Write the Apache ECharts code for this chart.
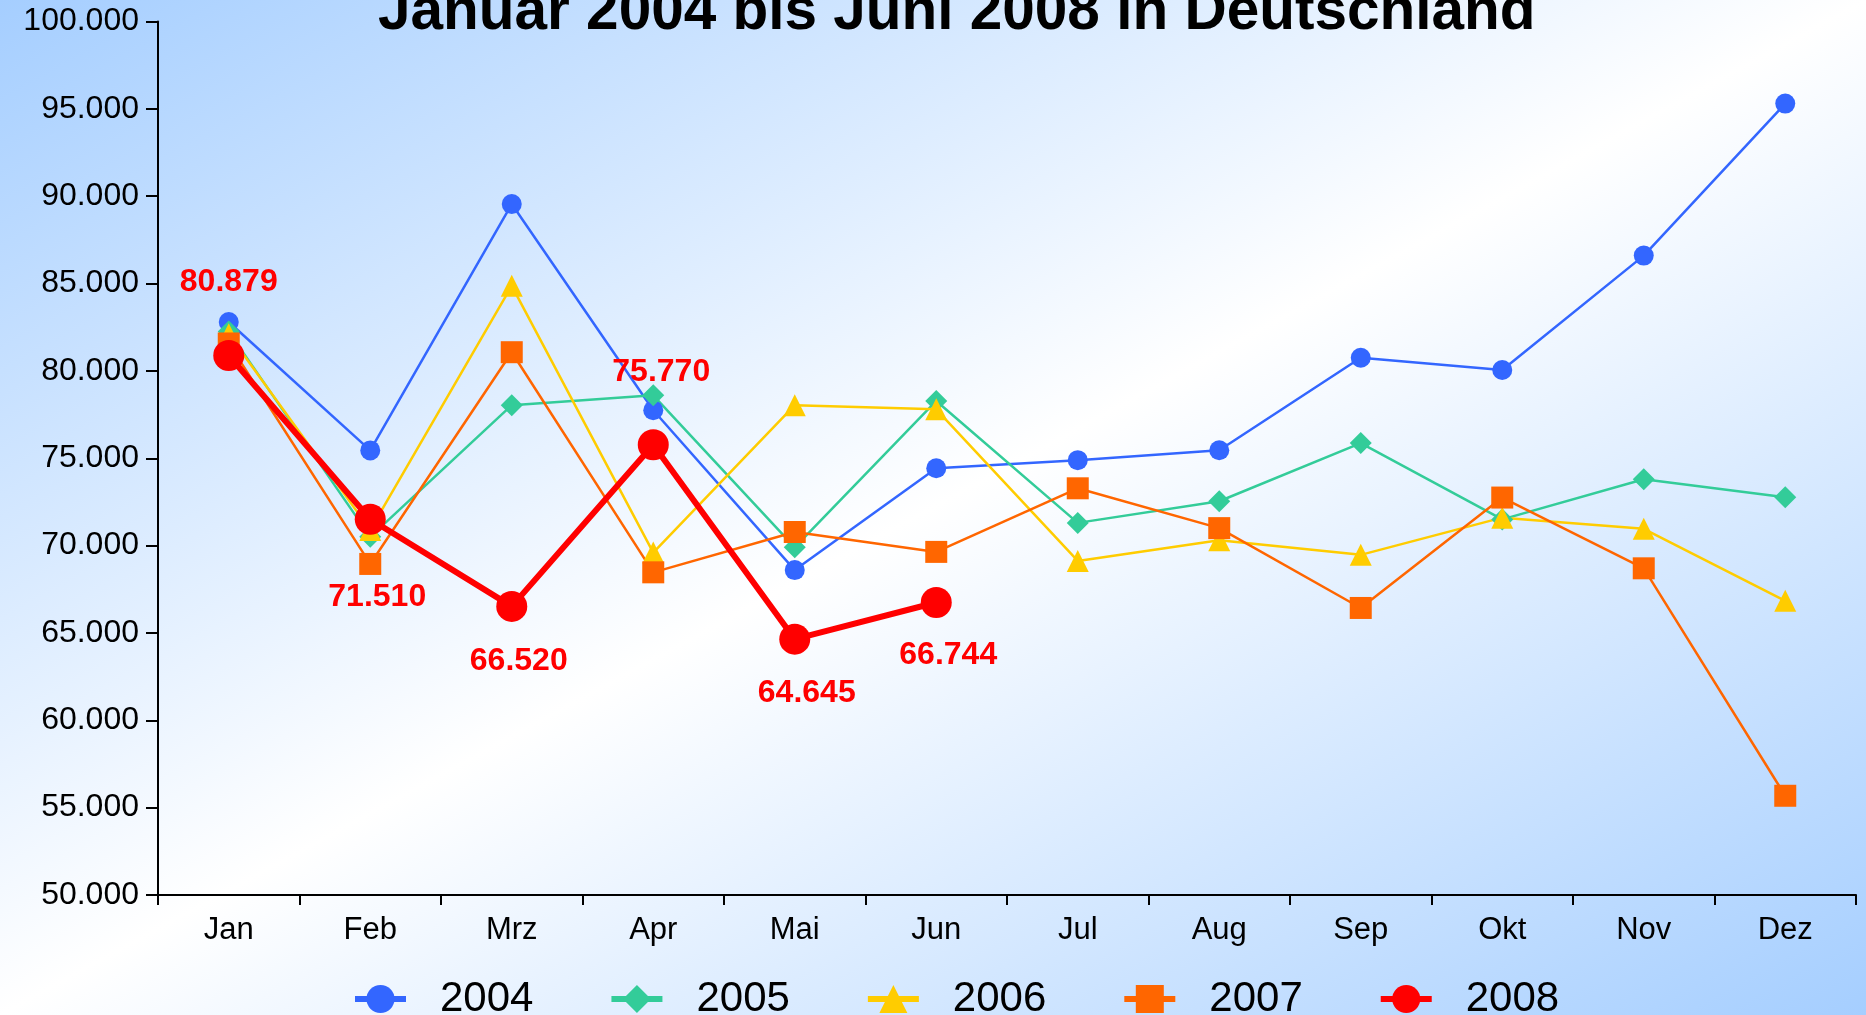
<!DOCTYPE html>
<html>
<head>
<meta charset="utf-8">
<script src="https://cdn.jsdelivr.net/npm/echarts@6/dist/echarts.min.js"></script>
<style>
    html, body { margin: 0; padding: 0; }
    #chart { width: 1866px; height: 1015px; }
</style>
</head>
<body>
<div id="chart"></div>
<script>
// Monate und Werte
const months = ['Jan', 'Feb', 'Mrz', 'Apr', 'Mai', 'Jun', 'Jul', 'Aug', 'Sep', 'Okt', 'Nov', 'Dez'];
const years = ['2004', '2005', '2006', '2007', '2008'];
const y2004 = [82800, 75450, 89550, 77750, 68600, 74430, 74890, 75460, 80750, 80050, 86600, 95300];
const y2005 = [82250, 70500, 78040, 78600, 69900, 78280, 71300, 72540, 75870, 71500, 73800, 72770];
const y2006 = [82100, 70900, 84870, 69600, 78040, 77800, 69120, 70300, 69470, 71600, 70960, 66840];
const y2007 = [81570, 68950, 81070, 68470, 70780, 69640, 73280, 71000, 66430, 72750, 68700, 55680];
const y2008 = [80879, 71510, 66520, 75770, 64645, 66744];
const yMin = 50000, yMax = 100000, yStep = 5000;

// Versatz der roten Beschriftungen [dx, dy] (nur Layout)
const labelShift = [[0, -73], [7, 78], [7, 55], [8, -73], [12, 54], [12, 53]];

const font = 'Liberation Sans';

function fmt(v) {
    const t = Math.floor(v / 1000);
    const r = String(Math.round(v % 1000)).padStart(3, '0');
    return t + '.' + r;
}

const chart = echarts.init(document.getElementById('chart'));

function thinLine(name, data, color, symbol, size) {
    return {
        name: name,
        type: 'line',
        data: data,
        symbol: symbol,
        symbolSize: size,
        showAllSymbol: true,
        lineStyle: { color: color, width: 2.5 },
        itemStyle: { color: color },
        emphasis: { disabled: true }
    };
}

const option = {
    animation: false,
    backgroundColor: {
        type: 'linear',
        x: 507, y: -276, x2: 1359, y2: 1291,
        global: true,
        colorStops: [
            { offset: 0, color: '#a5ceff' },
            { offset: 0.5, color: '#ffffff' },
            { offset: 1, color: '#a5ceff' }
        ]
    },
    title: {
        text: 'Januar 2004 bis Juni 2008 in Deutschland',
        left: 373,
        top: -22,
        textStyle: { fontFamily: font, fontSize: 58.5, fontWeight: 'bold', color: '#000' }
    },
    grid: { left: 158, right: 10, top: 21.5, bottom: 120 },
    legend: {
        data: years,
        left: 352,
        top: 978,
        padding: 0,
        itemWidth: 51,
        itemHeight: 35,
        itemGap: 75,
        lineStyle: { width: 6 },
        textStyle: { fontFamily: font, fontSize: 42, color: '#000', padding: [0, 0, 0, 29] }
    },
    xAxis: {
        type: 'category',
        data: months,
        boundaryGap: true,
        axisLine: { lineStyle: { color: '#000', width: 2 } },
        axisTick: { show: true, length: 10, lineStyle: { color: '#000', width: 2 } },
        axisLabel: { fontFamily: font, fontSize: 31, color: '#000', margin: 20 },
        splitLine: { show: false }
    },
    yAxis: {
        type: 'value',
        min: yMin,
        max: yMax,
        interval: yStep,
        axisLine: { show: true, lineStyle: { color: '#000', width: 2 } },
        axisTick: { show: true, length: 12, lineStyle: { color: '#000', width: 2 } },
        axisLabel: { fontFamily: font, fontSize: 32, color: '#000', margin: 19, formatter: fmt },
        splitLine: { show: false }
    },
    series: [
        thinLine('2004', y2004, '#3366ff', 'circle', 20),
        thinLine('2005', y2005, '#33cc99', 'diamond', 22),
        thinLine('2006', y2006, '#ffcc00', 'triangle', 22),
        thinLine('2007', y2007, '#ff6600', 'rect', 22),
        {
            name: '2008',
            type: 'line',
            data: y2008.map((v, i) => ({
                value: v,
                label: { offset: labelShift[i] }
            })),
            symbol: 'circle',
            symbolSize: 31,
            lineStyle: { color: '#ff0000', width: 6 },
            itemStyle: { color: '#ff0000' },
            emphasis: { disabled: true },
            z: 5,
            label: {
                show: true,
                position: 'inside',
                formatter: p => fmt(p.value),
                fontFamily: font,
                fontSize: 32,
                fontWeight: 'bold',
                color: '#ff0000'
            }
        }
    ]
};

chart.setOption(option);
</script>
</body>
</html>
